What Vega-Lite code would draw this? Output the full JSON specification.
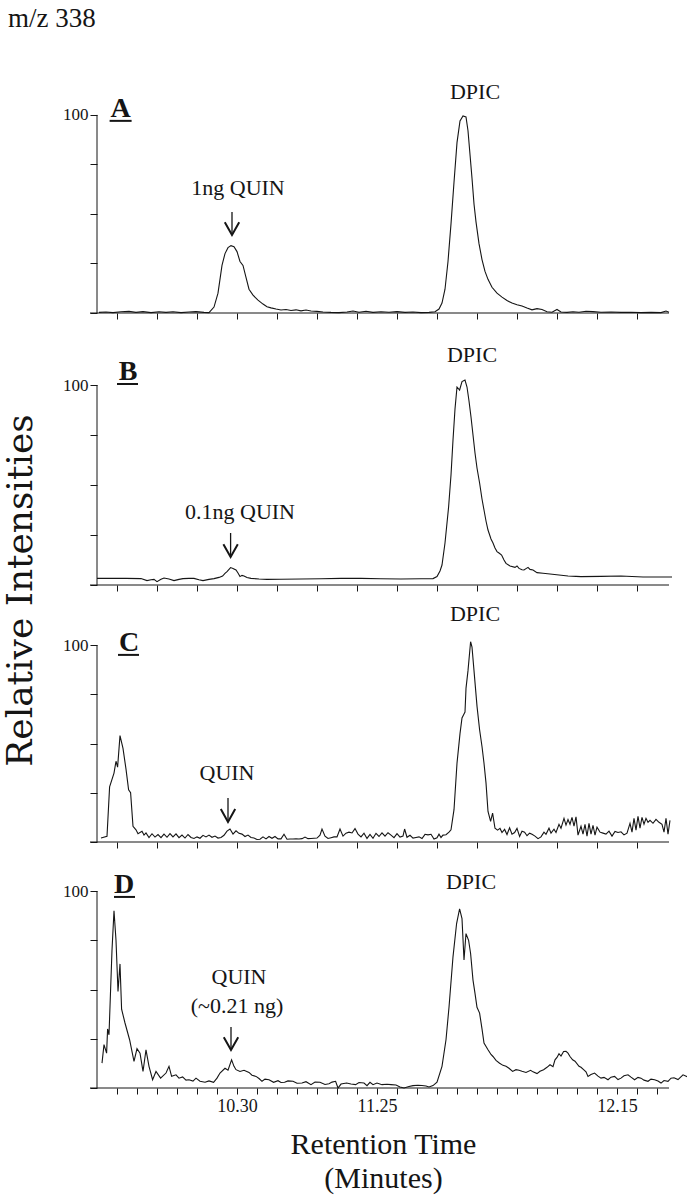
{
"$schema": "https://vega.github.io/schema/vega-lite/v6.json",
"background": "white",
"padding": {"left": 1, "top": 4, "right": 5, "bottom": 4},
"config": {"font": "Liberation Serif", "view": {"stroke": null}, "axis": {"labelOverlap": false}},
"bounds": "flush",
"spacing": 12,
"datasets": {
"A": [
{"t":0.10,"v":0.3},{"t":0.45,"v":0.5},{"t":0.80,"v":0.2},{"t":1.20,"v":0.6},{"t":1.60,"v":0.8},{"t":1.95,"v":0.3},{"t":2.30,"v":0.7},{"t":2.70,"v":0.2},{"t":3.10,"v":0.6},{"t":3.45,"v":0.3},{"t":3.80,"v":0.6},{"t":4.20,"v":0.2},{"t":4.60,"v":0.5},{"t":4.95,"v":0.7},{"t":5.35,"v":0.3},{"t":5.60,"v":0.2},{"t":5.85,"v":3},{"t":6.05,"v":10},{"t":6.25,"v":24},{"t":6.40,"v":30},{"t":6.55,"v":33},{"t":6.70,"v":34},{"t":6.85,"v":33.5},{"t":7.00,"v":31},{"t":7.15,"v":26},{"t":7.30,"v":24},{"t":7.45,"v":18},{"t":7.60,"v":12},{"t":7.80,"v":9},{"t":8.05,"v":6.5},{"t":8.30,"v":4.5},{"t":8.50,"v":3.2},{"t":8.70,"v":2.6},{"t":8.95,"v":2},{"t":9.20,"v":1.5},{"t":9.45,"v":1.8},{"t":9.70,"v":1.3},{"t":9.95,"v":1.6},{"t":10.20,"v":1.1},{"t":10.45,"v":1.5},{"t":10.70,"v":1},{"t":11.00,"v":0.8},{"t":11.30,"v":0.5},{"t":11.70,"v":0.3},{"t":12.10,"v":0.2},{"t":12.50,"v":0.5},{"t":12.80,"v":1},{"t":13.10,"v":0.4},{"t":13.45,"v":0.9},{"t":13.80,"v":0.3},{"t":14.20,"v":0.6},{"t":14.60,"v":0.4},{"t":15.00,"v":0.7},{"t":15.40,"v":0.3},{"t":15.80,"v":0.5},{"t":16.20,"v":0.2},{"t":16.60,"v":0.3},{"t":16.90,"v":0.6},{"t":17.10,"v":2},{"t":17.25,"v":5},{"t":17.40,"v":12},{"t":17.55,"v":26},{"t":17.70,"v":45},{"t":17.85,"v":66},{"t":18.00,"v":86},{"t":18.15,"v":97},{"t":18.30,"v":99.5},{"t":18.45,"v":99},{"t":18.55,"v":92},{"t":18.65,"v":80},{"t":18.75,"v":68},{"t":18.85,"v":55},{"t":18.95,"v":46},{"t":19.10,"v":35},{"t":19.25,"v":27},{"t":19.40,"v":21},{"t":19.55,"v":17},{"t":19.75,"v":13},{"t":20.00,"v":10},{"t":20.25,"v":8},{"t":20.50,"v":6.3},{"t":20.75,"v":5},{"t":21.00,"v":4.2},{"t":21.25,"v":3.5},{"t":21.50,"v":2.5},{"t":21.75,"v":1.6},{"t":22.00,"v":2.2},{"t":22.25,"v":1.8},{"t":22.50,"v":0.6},{"t":22.75,"v":0.4},{"t":23.00,"v":1.8},{"t":23.20,"v":0.5},{"t":23.50,"v":0.3},{"t":23.80,"v":0.6},{"t":24.10,"v":0.4},{"t":24.45,"v":0.9},{"t":24.80,"v":0.7},{"t":25.20,"v":0.4},{"t":25.70,"v":0.5},{"t":26.20,"v":0.3},{"t":26.70,"v":0.4},{"t":27.20,"v":0.2},{"t":27.70,"v":0.3},{"t":28.20,"v":0.2},{"t":28.45,"v":1},{"t":28.60,"v":0.4}
],
"B": [
{"t":0.00,"v":3.3},{"t":0.70,"v":3.3},{"t":1.45,"v":3.3},{"t":2.20,"v":3.2},{"t":2.50,"v":2.2},{"t":2.70,"v":2.6},{"t":2.85,"v":2.8},{"t":3.00,"v":1.7},{"t":3.20,"v":2.9},{"t":3.35,"v":3.5},{"t":3.60,"v":3.0},{"t":3.85,"v":2.2},{"t":4.10,"v":2.8},{"t":4.30,"v":3.2},{"t":4.60,"v":3.3},{"t":4.85,"v":3.3},{"t":5.10,"v":2.6},{"t":5.30,"v":2.2},{"t":5.60,"v":2.8},{"t":5.85,"v":3.2},{"t":6.10,"v":3.8},{"t":6.28,"v":4.5},{"t":6.40,"v":5.8},{"t":6.50,"v":6.7},{"t":6.68,"v":8.7},{"t":6.80,"v":8.3},{"t":6.95,"v":7.5},{"t":7.05,"v":6},{"t":7.15,"v":4.2},{"t":7.25,"v":4.8},{"t":7.35,"v":4.5},{"t":7.50,"v":3.7},{"t":7.70,"v":3.3},{"t":8.10,"v":3.0},{"t":8.50,"v":2.8},{"t":9.20,"v":2.9},{"t":10.20,"v":3.0},{"t":11.20,"v":3.1},{"t":12.20,"v":3.3},{"t":13.20,"v":3.3},{"t":14.20,"v":3.1},{"t":15.20,"v":3.0},{"t":16.20,"v":3.1},{"t":16.80,"v":3.2},{"t":17.00,"v":4.2},{"t":17.15,"v":7},{"t":17.25,"v":10},{"t":17.40,"v":21},{"t":17.58,"v":39},{"t":17.70,"v":55},{"t":17.80,"v":72.5},{"t":17.90,"v":88},{"t":18.00,"v":99},{"t":18.13,"v":97.5},{"t":18.25,"v":101.7},{"t":18.40,"v":102.5},{"t":18.50,"v":99},{"t":18.60,"v":92},{"t":18.70,"v":84},{"t":18.80,"v":75},{"t":18.90,"v":66},{"t":19.00,"v":58.5},{"t":19.13,"v":51},{"t":19.25,"v":43},{"t":19.35,"v":37.5},{"t":19.45,"v":32},{"t":19.55,"v":27.5},{"t":19.70,"v":23},{"t":19.80,"v":21},{"t":19.90,"v":18.5},{"t":20.00,"v":16.7},{"t":20.10,"v":16},{"t":20.23,"v":15},{"t":20.35,"v":12.5},{"t":20.45,"v":10.8},{"t":20.65,"v":9.5},{"t":20.90,"v":8.8},{"t":21.00,"v":9.5},{"t":21.10,"v":8.3},{"t":21.25,"v":7.6},{"t":21.35,"v":7.5},{"t":21.45,"v":8.2},{"t":21.55,"v":8.8},{"t":21.65,"v":7.8},{"t":21.80,"v":7.5},{"t":22.00,"v":6.2},{"t":22.30,"v":5.9},{"t":22.65,"v":5.5},{"t":23.10,"v":5.0},{"t":23.55,"v":4.5},{"t":23.95,"v":4.3},{"t":24.20,"v":4.2},{"t":25.20,"v":4.3},{"t":26.20,"v":4.5},{"t":27.30,"v":4.0},{"t":28.20,"v":4.0},{"t":28.75,"v":4.0}
],
"C": [
{"t":0.20,"v":2.0},{"t":0.50,"v":2.9},{"t":0.63,"v":28},{"t":0.85,"v":35},{"t":0.95,"v":41},{"t":1.03,"v":38},{"t":1.15,"v":54},{"t":1.30,"v":47.5},{"t":1.45,"v":37},{"t":1.58,"v":26.5},{"t":1.68,"v":25},{"t":1.80,"v":8},{"t":1.95,"v":6.2},{"t":2.05,"v":4.2},{"t":2.25,"v":5.4},{"t":2.35,"v":3.5},{"t":2.45,"v":4.6},{"t":2.60,"v":2.3},{"t":2.75,"v":4.2},{"t":2.90,"v":2.5},{"t":3.05,"v":3.8},{"t":3.20,"v":2.2},{"t":3.35,"v":4.0},{"t":3.50,"v":2.4},{"t":3.65,"v":4.3},{"t":3.80,"v":2.6},{"t":3.95,"v":4.1},{"t":4.10,"v":2.2},{"t":4.25,"v":3.5},{"t":4.40,"v":2.0},{"t":4.55,"v":3.8},{"t":4.70,"v":2.3},{"t":4.85,"v":1.8},{"t":5.00,"v":2.6},{"t":5.15,"v":1.9},{"t":5.30,"v":3.4},{"t":5.45,"v":2.6},{"t":5.60,"v":3.5},{"t":5.75,"v":2.4},{"t":5.90,"v":3.0},{"t":6.05,"v":2.0},{"t":6.20,"v":2.3},{"t":6.35,"v":3.4},{"t":6.50,"v":5.5},{"t":6.65,"v":6.6},{"t":6.80,"v":4.0},{"t":6.95,"v":5.7},{"t":7.10,"v":4.4},{"t":7.25,"v":4.0},{"t":7.40,"v":2.8},{"t":7.55,"v":3.5},{"t":7.70,"v":2.3},{"t":7.85,"v":2.0},{"t":8.00,"v":1.3},{"t":8.15,"v":1.4},{"t":8.30,"v":2.6},{"t":8.45,"v":1.6},{"t":8.60,"v":2.8},{"t":8.75,"v":1.9},{"t":8.90,"v":2.8},{"t":9.05,"v":1.6},{"t":9.20,"v":1.6},{"t":9.35,"v":3.9},{"t":9.50,"v":1.4},{"t":9.65,"v":1.5},{"t":9.80,"v":1.5},{"t":9.95,"v":1.6},{"t":10.10,"v":1.5},{"t":10.25,"v":1.7},{"t":10.40,"v":2.5},{"t":10.55,"v":1.7},{"t":10.70,"v":1.8},{"t":10.85,"v":1.9},{"t":11.00,"v":2.0},{"t":11.15,"v":3.5},{"t":11.25,"v":6.6},{"t":11.40,"v":3.0},{"t":11.55,"v":1.8},{"t":11.70,"v":2.2},{"t":11.85,"v":2.6},{"t":12.00,"v":2.6},{"t":12.15,"v":6.6},{"t":12.30,"v":3.0},{"t":12.45,"v":4.5},{"t":12.60,"v":5.0},{"t":12.75,"v":4.6},{"t":12.90,"v":6.8},{"t":13.05,"v":4.0},{"t":13.20,"v":2.6},{"t":13.35,"v":4.5},{"t":13.50,"v":1.8},{"t":13.65,"v":3.8},{"t":13.80,"v":1.9},{"t":13.95,"v":4.4},{"t":14.10,"v":2.8},{"t":14.25,"v":4.6},{"t":14.40,"v":3.0},{"t":14.55,"v":4.7},{"t":14.70,"v":3.5},{"t":14.85,"v":2.2},{"t":15.00,"v":4.2},{"t":15.15,"v":2.5},{"t":15.30,"v":3.0},{"t":15.38,"v":6.6},{"t":15.50,"v":2.4},{"t":15.65,"v":3.4},{"t":15.80,"v":2.0},{"t":15.95,"v":2.3},{"t":16.10,"v":2.6},{"t":16.25,"v":1.8},{"t":16.40,"v":3.9},{"t":16.55,"v":3.6},{"t":16.70,"v":3.9},{"t":16.85,"v":1.5},{"t":17.00,"v":2.1},{"t":17.10,"v":4.0},{"t":17.20,"v":2.3},{"t":17.30,"v":3.5},{"t":17.45,"v":3.7},{"t":17.60,"v":5.0},{"t":17.70,"v":6.2},{"t":17.85,"v":16.4},{"t":18.00,"v":40},{"t":18.15,"v":55},{"t":18.25,"v":63},{"t":18.35,"v":65},{"t":18.40,"v":66},{"t":18.45,"v":78},{"t":18.55,"v":87},{"t":18.68,"v":101.7},{"t":18.75,"v":99},{"t":18.85,"v":87},{"t":19.00,"v":69},{"t":19.13,"v":57},{"t":19.25,"v":48.5},{"t":19.35,"v":40},{"t":19.45,"v":30},{"t":19.55,"v":15.5},{"t":19.68,"v":10.5},{"t":19.78,"v":14.7},{"t":19.90,"v":7},{"t":20.03,"v":6},{"t":20.15,"v":6.9},{"t":20.25,"v":4.8},{"t":20.38,"v":6.4},{"t":20.50,"v":3.8},{"t":20.63,"v":7.2},{"t":20.75,"v":4.0},{"t":20.88,"v":4.8},{"t":21.00,"v":6.9},{"t":21.13,"v":2.8},{"t":21.25,"v":5.5},{"t":21.38,"v":5.0},{"t":21.50,"v":3.2},{"t":21.63,"v":4.5},{"t":21.75,"v":3.9},{"t":21.90,"v":3.0},{"t":22.05,"v":1.7},{"t":22.20,"v":2.6},{"t":22.35,"v":5.0},{"t":22.45,"v":3.9},{"t":22.60,"v":7.0},{"t":22.70,"v":4.5},{"t":22.85,"v":6.5},{"t":22.95,"v":4.8},{"t":23.10,"v":9.0},{"t":23.20,"v":7.0},{"t":23.35,"v":12},{"t":23.45,"v":8.6},{"t":23.55,"v":11.4},{"t":23.65,"v":9},{"t":23.75,"v":12.5},{"t":23.85,"v":8},{"t":23.95,"v":12.8},{"t":24.05,"v":3.5},{"t":24.20,"v":8},{"t":24.30,"v":4},{"t":24.40,"v":9},{"t":24.50,"v":3},{"t":24.60,"v":9.5},{"t":24.70,"v":4},{"t":24.80,"v":8.5},{"t":24.90,"v":3.5},{"t":25.00,"v":7.5},{"t":25.15,"v":5},{"t":25.30,"v":4.5},{"t":25.45,"v":4},{"t":25.60,"v":5.5},{"t":25.75,"v":3},{"t":25.90,"v":5.4},{"t":26.05,"v":4.8},{"t":26.20,"v":5.2},{"t":26.35,"v":3.6},{"t":26.50,"v":4.5},{"t":26.65,"v":9.5},{"t":26.75,"v":5},{"t":26.85,"v":12},{"t":26.95,"v":6},{"t":27.05,"v":13},{"t":27.15,"v":7},{"t":27.25,"v":12.5},{"t":27.35,"v":9},{"t":27.45,"v":12},{"t":27.55,"v":10},{"t":27.65,"v":11},{"t":27.80,"v":9.5},{"t":27.95,"v":11.5},{"t":28.10,"v":10},{"t":28.25,"v":9},{"t":28.35,"v":5},{"t":28.45,"v":12},{"t":28.55,"v":4},{"t":28.65,"v":11}
],
"D": [
{"t":0.25,"v":12.6},{"t":0.35,"v":22},{"t":0.48,"v":17.7},{"t":0.53,"v":30},{"t":0.60,"v":27},{"t":0.75,"v":70},{"t":0.85,"v":90},{"t":0.95,"v":75},{"t":1.05,"v":49},{"t":1.15,"v":63},{"t":1.23,"v":40},{"t":1.40,"v":33},{"t":1.63,"v":24.5},{"t":1.85,"v":13.5},{"t":2.00,"v":20},{"t":2.15,"v":17.7},{"t":2.30,"v":8.4},{"t":2.45,"v":19.4},{"t":2.60,"v":11},{"t":2.78,"v":4.2},{"t":2.95,"v":8.4},{"t":3.18,"v":5},{"t":3.45,"v":7.6},{"t":3.60,"v":11},{"t":3.73,"v":5.9},{"t":3.95,"v":6.7},{"t":4.10,"v":5.0},{"t":4.28,"v":5.6},{"t":4.45,"v":4.0},{"t":4.60,"v":4.2},{"t":4.80,"v":3.5},{"t":4.95,"v":5},{"t":5.15,"v":3.4},{"t":5.40,"v":2.9},{"t":5.60,"v":3.6},{"t":5.83,"v":2.9},{"t":6.00,"v":5},{"t":6.15,"v":7.6},{"t":6.40,"v":10},{"t":6.55,"v":9},{"t":6.73,"v":14.3},{"t":6.85,"v":11},{"t":6.95,"v":9.3},{"t":7.15,"v":8.4},{"t":7.35,"v":9},{"t":7.60,"v":7.9},{"t":7.75,"v":6.5},{"t":7.95,"v":5.9},{"t":8.10,"v":4.8},{"t":8.25,"v":3.4},{"t":8.40,"v":4.5},{"t":8.60,"v":4.2},{"t":8.83,"v":2.9},{"t":9.05,"v":3.7},{"t":9.20,"v":2.8},{"t":9.38,"v":2.9},{"t":9.55,"v":3.6},{"t":9.80,"v":3.4},{"t":10.00,"v":2.4},{"t":10.25,"v":2.5},{"t":10.45,"v":3.2},{"t":10.70,"v":1.7},{"t":10.90,"v":3.0},{"t":11.15,"v":2.9},{"t":11.40,"v":1.8},{"t":11.60,"v":2.2},{"t":11.75,"v":3.0},{"t":11.93,"v":3.4},{"t":12.05,"v":0},{"t":12.20,"v":2.0},{"t":12.48,"v":2.5},{"t":12.70,"v":2.0},{"t":12.93,"v":1.7},{"t":13.10,"v":2.8},{"t":13.35,"v":2.5},{"t":13.50,"v":1.2},{"t":13.65,"v":2.9},{"t":13.80,"v":1.7},{"t":14.00,"v":2.5},{"t":14.25,"v":1.7},{"t":14.50,"v":1.9},{"t":14.70,"v":1.7},{"t":14.95,"v":1.5},{"t":15.15,"v":0.5},{"t":15.35,"v":0},{"t":15.60,"v":0.8},{"t":15.80,"v":1.2},{"t":16.05,"v":1.4},{"t":16.25,"v":1.3},{"t":16.45,"v":1.0},{"t":16.60,"v":0.5},{"t":16.80,"v":1.2},{"t":17.00,"v":2.9},{"t":17.25,"v":11},{"t":17.45,"v":24.5},{"t":17.60,"v":41},{"t":17.80,"v":66.6},{"t":17.98,"v":83.5},{"t":18.13,"v":91},{"t":18.25,"v":86},{"t":18.35,"v":65},{"t":18.45,"v":78.4},{"t":18.58,"v":75},{"t":18.68,"v":68.3},{"t":18.80,"v":54.8},{"t":18.90,"v":48},{"t":19.00,"v":41},{"t":19.13,"v":38},{"t":19.25,"v":30},{"t":19.35,"v":22.8},{"t":19.55,"v":19.4},{"t":19.70,"v":17},{"t":19.80,"v":16},{"t":19.95,"v":14},{"t":20.13,"v":12.6},{"t":20.30,"v":11.5},{"t":20.45,"v":11},{"t":20.60,"v":10},{"t":20.78,"v":8.4},{"t":20.95,"v":9.3},{"t":21.10,"v":9},{"t":21.25,"v":8.5},{"t":21.45,"v":7.9},{"t":21.68,"v":9},{"t":21.80,"v":8.2},{"t":22.00,"v":7.3},{"t":22.15,"v":8.5},{"t":22.33,"v":9.3},{"t":22.50,"v":10.5},{"t":22.65,"v":11.8},{"t":22.80,"v":10.8},{"t":22.90,"v":14.3},{"t":23.00,"v":15.5},{"t":23.10,"v":17.4},{"t":23.20,"v":16.2},{"t":23.33,"v":18.5},{"t":23.45,"v":18.6},{"t":23.55,"v":17.7},{"t":23.65,"v":16},{"t":23.78,"v":14.3},{"t":23.90,"v":13.6},{"t":24.10,"v":11},{"t":24.20,"v":10.5},{"t":24.33,"v":9.3},{"t":24.45,"v":8.2},{"t":24.55,"v":5.9},{"t":24.70,"v":6.8},{"t":24.88,"v":7.6},{"t":25.05,"v":6.0},{"t":25.20,"v":5},{"t":25.35,"v":5.4},{"t":25.55,"v":4.2},{"t":25.70,"v":5.5},{"t":25.88,"v":5.9},{"t":26.05,"v":4.3},{"t":26.20,"v":5},{"t":26.35,"v":6.2},{"t":26.55,"v":6.7},{"t":26.70,"v":5.5},{"t":26.88,"v":4.2},{"t":27.05,"v":5.4},{"t":27.20,"v":5},{"t":27.35,"v":4.0},{"t":27.55,"v":3.4},{"t":27.70,"v":4.5},{"t":27.88,"v":4.2},{"t":28.05,"v":3.5},{"t":28.20,"v":2.5},{"t":28.35,"v":3.8},{"t":28.55,"v":3.4},{"t":28.70,"v":5},{"t":28.85,"v":5.2},{"t":29.05,"v":4.3},{"t":29.30,"v":6.7},{"t":29.55,"v":5.5}
],
"notes": [
{"p":"A","t":7.05,"v":63,"text":"1ng QUIN"},{"p":"A","t":18.9,"v":111.4,"text":"DPIC"},
{"p":"B","t":7.15,"v":36.5,"text":"0.1ng QUIN"},{"p":"B","t":18.75,"v":115,"text":"DPIC"},
{"p":"C","t":6.5,"v":35,"text":"QUIN"},{"p":"C","t":18.9,"v":115.7,"text":"DPIC"},
{"p":"D","t":7.1,"v":56.3,"text":"QUIN"},{"p":"D","t":7.0,"v":41.6,"text":"(~0.21 ng)"},{"p":"D","t":18.7,"v":104.6,"text":"DPIC"}
],
"letters": [
{"p":"A","label":"A","t":1.18,"v":99,"u0":0.63,"u1":1.73,"uv":97.0},
{"p":"B","label":"B","t":1.55,"v":102.5,"u0":1.0,"u1":2.05,"uv":100.5},
{"p":"C","label":"C","t":1.6,"v":97,"u0":1.05,"u1":2.1,"uv":95.0},
{"p":"D","label":"D","t":1.35,"v":99,"u0":0.85,"u1":1.9,"uv":97.0}
],
"arrows": [
{"p":"A","t":6.75,"top":51,"bot":39.4},
{"p":"B","t":6.68,"top":26,"bot":14},
{"p":"C","t":6.55,"top":22.3,"bot":10.2},
{"p":"D","t":6.7,"top":31,"bot":19.3}
],
"xlabels": [
{"t":7,"label":"10.30"},{"t":14,"label":"11.25"},{"t":26,"label":"12.15"}
]
},
"vconcat": [
{
"width": 572, "height": 309,
"layer": [
{"data":{"name":"A"},"mark":{"type":"line","color":"#151515","strokeWidth":1.1},
"encoding":{"x":{"field":"t","type":"quantitative","scale":{"domain":[0,28.6],"nice":false,"zero":false},"axis":{"values":[1,2,3,4,5,6,7,8,9,10,11,12,13,14,15,16,17,18,19,20,21,22,23,24,25,26,27,28],"labels":false,"domain":false,"grid":false,"tickSize":6,"tickColor":"#151515","title":null}},
"y":{"field":"v","type":"quantitative","scale":{"domain":[0,156],"nice":false},"axis":{"values":[0,25,50,75,100],"labelExpr":"datum.value==100?'100':''","domain":false,"grid":false,"tickSize":7,"tickColor":"#151515","labelFontSize":17,"labelPadding":2,"labelColor":"#151515","title":null}}}},
{"data":{"values":[{}]},"mark":{"type":"rule","color":"#151515","strokeWidth":1},"encoding":{"x":{"datum":0,"type":"quantitative"},"y":{"datum":0,"type":"quantitative"},"y2":{"datum":100}}},
{"data":{"values":[{}]},"mark":{"type":"rule","color":"#151515","strokeWidth":1},"encoding":{"x":{"datum":-0.35,"type":"quantitative"},"x2":{"datum":28.6},"y":{"datum":0,"type":"quantitative"}}},
{"data":{"values":[{"text":"m/z 338","t":-4.45,"v":144.4}]},"mark":{"type":"text","fontSize":27,"align":"left","baseline":"alphabetic","color":"#151515"},"encoding":{"x":{"field":"t","type":"quantitative"},"y":{"field":"v","type":"quantitative"},"text":{"field":"text"}}},
{"data":{"name":"notes"},"transform":[{"filter":"datum.p=='A'"}],"mark":{"type":"text","fontSize":22,"align":"center","baseline":"middle","color":"#151515"},"encoding":{"x":{"field":"t","type":"quantitative"},"y":{"field":"v","type":"quantitative"},"text":{"field":"text"}}},
{"data":{"name":"letters"},"transform":[{"filter":"datum.p=='A'"}],"mark":{"type":"text","fontSize":28,"fontWeight":"bold","align":"center","baseline":"alphabetic","color":"#151515"},"encoding":{"x":{"field":"t","type":"quantitative"},"y":{"field":"v","type":"quantitative"},"text":{"field":"label"}}},
{"data":{"name":"letters"},"transform":[{"filter":"datum.p=='A'"}],"mark":{"type":"rule","color":"#151515","strokeWidth":2},"encoding":{"x":{"field":"u0","type":"quantitative"},"x2":{"field":"u1"},"y":{"field":"uv","type":"quantitative"}}},
{"data":{"name":"arrows"},"transform":[{"filter":"datum.p=='A'"}],"mark":{"type":"rule","color":"#151515","strokeWidth":1.3},"encoding":{"x":{"field":"t","type":"quantitative"},"y":{"field":"top","type":"quantitative"},"y2":{"field":"bot"}}},
{"data":{"name":"arrows"},"transform":[{"filter":"datum.p=='A'"}],"mark":{"type":"point","shape":"M-0.9,-1.6L0,0L0.9,-1.6","size":256,"filled":false,"opacity":1,"strokeWidth":2,"color":"#151515"},"encoding":{"x":{"field":"t","type":"quantitative"},"y":{"field":"bot","type":"quantitative"}}}
]
},
{
"width": 572, "height": 260,
"layer": [
{"data":{"name":"B"},"mark":{"type":"line","color":"#151515","strokeWidth":1.1},
"encoding":{"x":{"field":"t","type":"quantitative","scale":{"domain":[0,28.6],"nice":false,"zero":false},"axis":{"values":[1,2,3,4,5,6,7,8,9,10,11,12,13,14,15,16,17,18,19,20,21,22,23,24,25,26,27,28],"labels":false,"domain":false,"grid":false,"tickSize":6,"tickColor":"#151515","title":null}},
"y":{"field":"v","type":"quantitative","scale":{"domain":[0,130],"nice":false},"axis":{"values":[0,25,50,75,100],"labelExpr":"datum.value==100?'100':''","domain":false,"grid":false,"tickSize":7,"tickColor":"#151515","labelFontSize":17,"labelPadding":2,"labelColor":"#151515","title":"Relative Intensities","titleFont":"DejaVu Serif","titleFontSize":36,"titleFontWeight":"normal","titleColor":"#151515","titleAngle":270,"titleAlign":"center","titleBaseline":"alphabetic","titleX":-66,"titleY":265}}}},
{"data":{"values":[{}]},"mark":{"type":"rule","color":"#151515","strokeWidth":1},"encoding":{"x":{"datum":0,"type":"quantitative"},"y":{"datum":0,"type":"quantitative"},"y2":{"datum":100}}},
{"data":{"values":[{}]},"mark":{"type":"rule","color":"#151515","strokeWidth":1},"encoding":{"x":{"datum":-0.35,"type":"quantitative"},"x2":{"datum":28.6},"y":{"datum":0,"type":"quantitative"}}},
{"data":{"name":"notes"},"transform":[{"filter":"datum.p=='B'"}],"mark":{"type":"text","fontSize":22,"align":"center","baseline":"middle","color":"#151515"},"encoding":{"x":{"field":"t","type":"quantitative"},"y":{"field":"v","type":"quantitative"},"text":{"field":"text"}}},
{"data":{"name":"letters"},"transform":[{"filter":"datum.p=='B'"}],"mark":{"type":"text","fontSize":28,"fontWeight":"bold","align":"center","baseline":"alphabetic","color":"#151515"},"encoding":{"x":{"field":"t","type":"quantitative"},"y":{"field":"v","type":"quantitative"},"text":{"field":"label"}}},
{"data":{"name":"letters"},"transform":[{"filter":"datum.p=='B'"}],"mark":{"type":"rule","color":"#151515","strokeWidth":2},"encoding":{"x":{"field":"u0","type":"quantitative"},"x2":{"field":"u1"},"y":{"field":"uv","type":"quantitative"}}},
{"data":{"name":"arrows"},"transform":[{"filter":"datum.p=='B'"}],"mark":{"type":"rule","color":"#151515","strokeWidth":1.3},"encoding":{"x":{"field":"t","type":"quantitative"},"y":{"field":"top","type":"quantitative"},"y2":{"field":"bot"}}},
{"data":{"name":"arrows"},"transform":[{"filter":"datum.p=='B'"}],"mark":{"type":"point","shape":"M-0.9,-1.6L0,0L0.9,-1.6","size":256,"filled":false,"opacity":1,"strokeWidth":2,"color":"#151515"},"encoding":{"x":{"field":"t","type":"quantitative"},"y":{"field":"bot","type":"quantitative"}}}
]
},
{
"width": 572, "height": 245,
"layer": [
{"data":{"name":"C"},"mark":{"type":"line","color":"#151515","strokeWidth":1.1},
"encoding":{"x":{"field":"t","type":"quantitative","scale":{"domain":[0,28.6],"nice":false,"zero":false},"axis":{"values":[1,2,3,4,5,6,7,8,9,10,11,12,13,14,15,16,17,18,19,20,21,22,23,24,25,26,27,28],"labels":false,"domain":false,"grid":false,"tickSize":6,"tickColor":"#151515","title":null}},
"y":{"field":"v","type":"quantitative","scale":{"domain":[0,124.4],"nice":false},"axis":{"values":[0,25,50,75,100],"labelExpr":"datum.value==100?'100':''","domain":false,"grid":false,"tickSize":7,"tickColor":"#151515","labelFontSize":17,"labelPadding":2,"labelColor":"#151515","title":null}}}},
{"data":{"values":[{}]},"mark":{"type":"rule","color":"#151515","strokeWidth":1},"encoding":{"x":{"datum":0,"type":"quantitative"},"y":{"datum":0,"type":"quantitative"},"y2":{"datum":100}}},
{"data":{"values":[{}]},"mark":{"type":"rule","color":"#151515","strokeWidth":1},"encoding":{"x":{"datum":-0.35,"type":"quantitative"},"x2":{"datum":28.6},"y":{"datum":0,"type":"quantitative"}}},
{"data":{"name":"notes"},"transform":[{"filter":"datum.p=='C'"}],"mark":{"type":"text","fontSize":22,"align":"center","baseline":"middle","color":"#151515"},"encoding":{"x":{"field":"t","type":"quantitative"},"y":{"field":"v","type":"quantitative"},"text":{"field":"text"}}},
{"data":{"name":"letters"},"transform":[{"filter":"datum.p=='C'"}],"mark":{"type":"text","fontSize":28,"fontWeight":"bold","align":"center","baseline":"alphabetic","color":"#151515"},"encoding":{"x":{"field":"t","type":"quantitative"},"y":{"field":"v","type":"quantitative"},"text":{"field":"label"}}},
{"data":{"name":"letters"},"transform":[{"filter":"datum.p=='C'"}],"mark":{"type":"rule","color":"#151515","strokeWidth":2},"encoding":{"x":{"field":"u0","type":"quantitative"},"x2":{"field":"u1"},"y":{"field":"uv","type":"quantitative"}}},
{"data":{"name":"arrows"},"transform":[{"filter":"datum.p=='C'"}],"mark":{"type":"rule","color":"#151515","strokeWidth":1.3},"encoding":{"x":{"field":"t","type":"quantitative"},"y":{"field":"top","type":"quantitative"},"y2":{"field":"bot"}}},
{"data":{"name":"arrows"},"transform":[{"filter":"datum.p=='C'"}],"mark":{"type":"point","shape":"M-0.9,-1.6L0,0L0.9,-1.6","size":256,"filled":false,"opacity":1,"strokeWidth":2,"color":"#151515"},"encoding":{"x":{"field":"t","type":"quantitative"},"y":{"field":"bot","type":"quantitative"}}}
]
},
{
"width": 572, "height": 234,
"resolve": {"axis": {"x": "independent"}},
"layer": [
{"data":{"name":"D"},"mark":{"type":"line","color":"#151515","strokeWidth":1.1},
"encoding":{"x":{"field":"t","type":"quantitative","scale":{"domain":[0,28.6],"nice":false,"zero":false},"axis":{"orient":"bottom","values":[1,2,3,4,5,6,7,8,9,10,11,12,13,14,15,16,17,18,19,20,21,22,23,24,25,26,27,28],"labels":false,"domain":false,"grid":false,"tickSize":6,"tickColor":"#151515","title":null}},
"y":{"field":"v","type":"quantitative","scale":{"domain":[0,118.8],"nice":false},"axis":{"values":[0,25,50,75,100],"labelExpr":"datum.value==100?'100':''","domain":false,"grid":false,"tickSize":7,"tickColor":"#151515","labelFontSize":17,"labelPadding":2,"labelColor":"#151515","title":null}}}},
{"data":{"name":"xlabels"},"mark":{"type":"rule","opacity":0},"encoding":{"x":{"field":"t","type":"quantitative","axis":{"orient":"bottom","values":[7,14,26],"labelExpr":"datum.value==7?'10.30':datum.value==14?'11.25':'12.15'","ticks":false,"tickSize":0,"domain":false,"grid":false,"labelFontSize":18,"labelColor":"#151515","labelPadding":9,"labelFlush":false,"labelBound":false,"title":["Retention Time","(Minutes)"],"titleFontSize":30,"titleFontWeight":"normal","titleColor":"#151515","titlePadding":14,"titleLineHeight":34}},"y":{"datum":0,"type":"quantitative"}}},
{"data":{"values":[{}]},"mark":{"type":"rule","color":"#151515","strokeWidth":1},"encoding":{"x":{"datum":0,"type":"quantitative","axis":null},"y":{"datum":0,"type":"quantitative"},"y2":{"datum":100}}},
{"data":{"values":[{}]},"mark":{"type":"rule","color":"#151515","strokeWidth":1},"encoding":{"x":{"datum":-0.35,"type":"quantitative","axis":null},"x2":{"datum":28.6},"y":{"datum":0,"type":"quantitative"}}},
{"data":{"name":"notes"},"transform":[{"filter":"datum.p=='D'"}],"mark":{"type":"text","fontSize":22,"align":"center","baseline":"middle","color":"#151515"},"encoding":{"x":{"field":"t","type":"quantitative","axis":null},"y":{"field":"v","type":"quantitative"},"text":{"field":"text"}}},
{"data":{"name":"letters"},"transform":[{"filter":"datum.p=='D'"}],"mark":{"type":"text","fontSize":28,"fontWeight":"bold","align":"center","baseline":"alphabetic","color":"#151515"},"encoding":{"x":{"field":"t","type":"quantitative","axis":null},"y":{"field":"v","type":"quantitative"},"text":{"field":"label"}}},
{"data":{"name":"letters"},"transform":[{"filter":"datum.p=='D'"}],"mark":{"type":"rule","color":"#151515","strokeWidth":2},"encoding":{"x":{"field":"u0","type":"quantitative","axis":null},"x2":{"field":"u1"},"y":{"field":"uv","type":"quantitative"}}},
{"data":{"name":"arrows"},"transform":[{"filter":"datum.p=='D'"}],"mark":{"type":"rule","color":"#151515","strokeWidth":1.3},"encoding":{"x":{"field":"t","type":"quantitative","axis":null},"y":{"field":"top","type":"quantitative"},"y2":{"field":"bot"}}},
{"data":{"name":"arrows"},"transform":[{"filter":"datum.p=='D'"}],"mark":{"type":"point","shape":"M-0.9,-1.6L0,0L0.9,-1.6","size":256,"filled":false,"opacity":1,"strokeWidth":2,"color":"#151515"},"encoding":{"x":{"field":"t","type":"quantitative","axis":null},"y":{"field":"bot","type":"quantitative"}}}
]
}
]
}
